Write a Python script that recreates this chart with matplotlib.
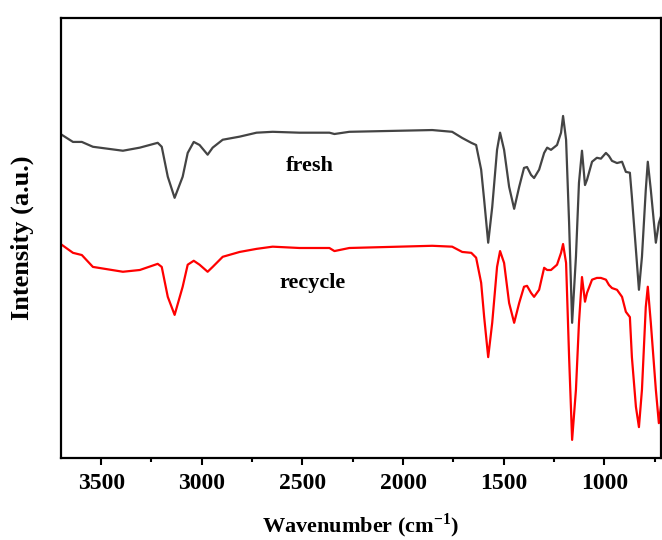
import numpy as np
import matplotlib.pyplot as plt
from matplotlib.ticker import MultipleLocator

plt.rcParams['font.family'] = ['Liberation Serif', 'DejaVu Serif']
plt.rcParams['mathtext.fontset'] = 'custom'
plt.rcParams['mathtext.rm'] = 'Liberation Serif'
plt.rcParams['mathtext.bf'] = 'Liberation Serif:bold'

# FTIR spectra (wavenumber in cm-1, intensity in a.u.)
wavenumber = [3695, 3640, 3596, 3541, 3392, 3308, 3219, 3199, 3169, 3135,
              3095, 3070, 3040, 3011, 2971, 2946, 2896, 2812, 2728, 2648,
              2515, 2366, 2341, 2267, 1855, 1756, 1706, 1661, 1637, 1612,
              1597, 1577, 1557, 1533, 1518, 1498, 1473, 1448, 1423, 1399,
              1384, 1364, 1349, 1324, 1299, 1284, 1265, 1235, 1215, 1205,
              1190, 1175, 1160, 1141, 1126, 1111, 1096, 1086, 1061, 1037,
              1017, 992, 977, 962, 937, 912, 893, 873, 863, 843,
              828, 813, 794, 784, 769, 744, 729, 719]

fresh = [73.4, 71.8, 71.8, 70.7, 69.8, 70.5, 71.6, 70.7, 63.9, 59.1,
         63.9, 69.3, 71.8, 71.1, 68.9, 70.5, 72.3, 73.0, 73.9, 74.1,
         73.9, 73.9, 73.6, 74.1, 74.5, 74.1, 72.7, 71.6, 71.1, 65.5,
         58.6, 48.9, 57.0, 70.0, 73.9, 70.0, 61.6, 56.6, 61.6, 65.9,
         66.1, 64.3, 63.6, 65.5, 69.3, 70.5, 70.0, 71.1, 73.9, 77.7,
         72.3, 53.4, 30.7, 45.7, 62.5, 69.8, 62.0, 63.2, 67.3, 68.2,
         68.0, 69.3, 68.6, 67.5, 67.0, 67.3, 65.0, 64.8, 59.3, 47.3,
         38.2, 45.7, 60.9, 67.3, 60.9, 48.9, 53.4, 54.8]

recycle = [48.4, 46.6, 46.1, 43.4, 42.3, 42.7, 44.1, 43.4, 36.6, 32.5,
           38.9, 43.9, 44.8, 43.9, 42.3, 43.4, 45.7, 46.8, 47.5, 48.0,
           47.7, 47.7, 47.0, 47.7, 48.2, 48.0, 46.8, 46.6, 45.5, 39.8,
           32.0, 22.9, 30.7, 43.4, 47.0, 44.3, 35.2, 30.7, 35.2, 38.9,
           39.1, 37.5, 36.6, 38.2, 43.2, 42.7, 42.7, 43.9, 46.6, 48.6,
           44.3, 22.9, 4.1, 15.5, 30.7, 41.1, 35.5, 37.5, 40.5, 40.9,
           40.9, 40.5, 39.3, 38.6, 38.2, 36.6, 33.2, 32.0, 22.9, 11.6,
           7.0, 15.5, 34.3, 38.9, 30.7, 15.5, 7.9, 11.6]

fig = plt.figure(figsize=(6.62, 5.4), dpi=100)
ax = fig.add_axes([0.092, 0.152, 0.906, 0.815])

ax.plot(wavenumber, fresh, color="#444444", linewidth=1.6, solid_joinstyle="round")
ax.plot(wavenumber, recycle, color="#ff0000", linewidth=1.6, solid_joinstyle="round")

ax.text(2465, 66.4, "fresh", fontsize=16, fontweight="bold", ha="center", va="center")
ax.text(2450, 39.8, "recycle", fontsize=16, fontweight="bold", ha="center", va="center")

ax.set_xlim(3700, 720)
ax.set_ylim(0, 100)
ax.xaxis.set_major_locator(MultipleLocator(500))
ax.xaxis.set_minor_locator(MultipleLocator(250))
ax.set_yticks([])
ax.tick_params(axis="x", which="major", direction="out", length=5, width=1.5,
               labelsize=17, pad=6)
ax.tick_params(axis="x", which="minor", direction="out", length=3, width=1.5)
for lab in ax.get_xticklabels():
    lab.set_fontweight("bold")
for sp in ax.spines.values():
    sp.set_linewidth(1.6)

ax.set_xlabel(r"Wavenumber (cm$^{\mathbf{-1}}$)", fontsize=16, fontweight="bold", va="center")
ax.xaxis.set_label_coords(0.5, -0.155)
ax.set_ylabel("Intensity (a.u.)", fontsize=19, fontweight="bold", va="center")
ax.yaxis.set_label_coords(-0.065, 0.5)

fig.savefig("out.png", dpi=100)
